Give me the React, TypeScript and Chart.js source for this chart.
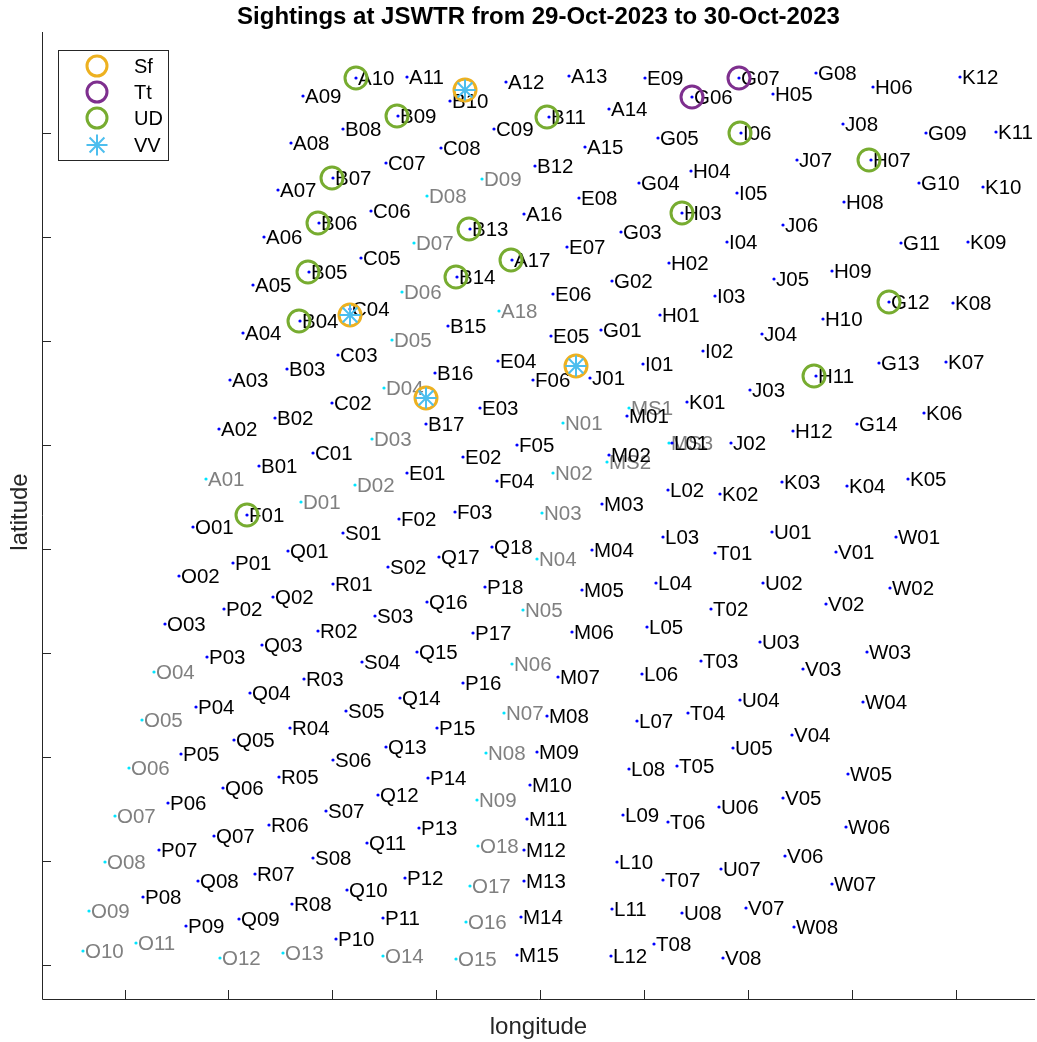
import React, { useEffect, useRef } from "react";
import { Chart, registerables } from "chart.js";

Chart.register(...registerables);

type Station = [string, number, number];
type Spot = [number, number];

const TITLE = "Sightings at JSWTR from 29-Oct-2023 to 30-Oct-2023";
const X_LABEL = "longitude";
const Y_LABEL = "latitude";
const LEGEND_NAMES = ["Sf", "Tt", "UD", "VV"];

// [name, longitude, latitude] in plot units
const activeStations: Station[] = [
  ["A02", 219, 571], ["A03", 230, 620], ["A04", 243, 667], ["A05", 253, 715], ["A06", 264, 763],
  ["A07", 278, 810], ["A08", 291, 857], ["A09", 303, 904], ["A10", 356, 922], ["A11", 407, 923],
  ["A12", 506, 918], ["A13", 569, 924], ["A14", 609, 891], ["A15", 585, 853], ["A16", 524, 786],
  ["A17", 512, 740],
  ["B01", 259, 534], ["B02", 275, 582], ["B03", 287, 631], ["B04", 300, 679], ["B05", 309, 728],
  ["B06", 319, 777], ["B07", 333, 822], ["B08", 343, 871], ["B09", 398, 884], ["B10", 450, 899],
  ["B11", 549, 883], ["B12", 535, 834], ["B13", 470, 771], ["B14", 457, 723], ["B15", 448, 674],
  ["B16", 435, 627], ["B17", 426, 576],
  ["C01", 313, 547], ["C02", 332, 597], ["C03", 338, 645], ["C04", 350, 691], ["C05", 361, 742],
  ["C06", 371, 789], ["C07", 386, 837], ["C08", 441, 852], ["C09", 494, 871],
  ["E01", 407, 527], ["E02", 463, 543], ["E03", 480, 592], ["E04", 498, 639], ["E05", 551, 664],
  ["E06", 553, 706], ["E07", 567, 753], ["E08", 579, 802], ["E09", 645, 922],
  ["F01", 247, 485], ["F02", 399, 481], ["F03", 455, 488], ["F04", 497, 519], ["F05", 517, 555],
  ["F06", 533, 620],
  ["G01", 601, 670], ["G02", 612, 719], ["G03", 621, 768], ["G04", 639, 817], ["G05", 658, 862],
  ["G06", 692, 903], ["G07", 739, 922], ["G08", 816, 927], ["G09", 926, 867], ["G10", 919, 817],
  ["G11", 901, 757], ["G12", 889, 698], ["G13", 879, 637], ["G14", 857, 576],
  ["H01", 660, 685], ["H02", 669, 737], ["H03", 682, 787], ["H04", 691, 829], ["H05", 773, 906],
  ["H06", 873, 913], ["H07", 871, 840], ["H08", 844, 798], ["H09", 832, 729], ["H10", 823, 681],
  ["H11", 816, 624], ["H12", 793, 569],
  ["I01", 643, 636], ["I02", 703, 649], ["I03", 715, 704], ["I04", 727, 758], ["I05", 737, 807],
  ["I06", 741, 867],
  ["J01", 590, 622], ["J02", 731, 557], ["J03", 750, 610], ["J04", 762, 666], ["J05", 774, 721],
  ["J06", 783, 775], ["J07", 797, 840], ["J08", 843, 876],
  ["K01", 687, 598], ["K02", 720, 506], ["K03", 782, 518], ["K04", 847, 514], ["K05", 908, 521],
  ["K06", 924, 587], ["K07", 946, 638], ["K08", 953, 697], ["K09", 968, 758], ["K10", 983, 813],
  ["K11", 996, 868], ["K12", 960, 923],
  ["L01", 672, 557], ["L02", 668, 510], ["L03", 663, 463], ["L04", 656, 417], ["L05", 647, 373],
  ["L06", 642, 326], ["L07", 637, 279], ["L08", 629, 231], ["L09", 623, 185], ["L10", 617, 138],
  ["L11", 612, 91], ["L12", 611, 44],
  ["M01", 627, 584], ["M02", 609, 545], ["M03", 602, 496], ["M04", 592, 450], ["M05", 582, 410],
  ["M06", 572, 368], ["M07", 558, 323], ["M08", 547, 284], ["M09", 537, 248], ["M10", 530, 215],
  ["M11", 527, 181], ["M12", 524, 150], ["M13", 524, 119], ["M14", 521, 83], ["M15", 517, 45],
  ["O01", 193, 473], ["O02", 179, 424], ["O03", 165, 376],
  ["P01", 233, 437], ["P02", 224, 391], ["P03", 207, 343], ["P04", 196, 293], ["P05", 181, 246],
  ["P06", 168, 197], ["P07", 159, 150], ["P08", 143, 103], ["P09", 186, 74], ["P10", 336, 61],
  ["P11", 383, 82], ["P12", 405, 122], ["P13", 419, 172], ["P14", 428, 222], ["P15", 437, 272],
  ["P16", 463, 317], ["P17", 473, 367], ["P18", 485, 413],
  ["Q01", 288, 449], ["Q02", 273, 403], ["Q03", 262, 355], ["Q04", 250, 307], ["Q05", 234, 260],
  ["Q06", 223, 212], ["Q07", 214, 164], ["Q08", 198, 119], ["Q09", 239, 81], ["Q10", 347, 110],
  ["Q11", 367, 157], ["Q12", 378, 205], ["Q13", 386, 253], ["Q14", 400, 302], ["Q15", 417, 348],
  ["Q16", 427, 398], ["Q17", 439, 443], ["Q18", 492, 453],
  ["R01", 333, 416], ["R02", 318, 369], ["R03", 304, 321], ["R04", 290, 272], ["R05", 279, 223],
  ["R06", 269, 175], ["R07", 255, 126], ["R08", 292, 96],
  ["S01", 343, 467], ["S02", 388, 433], ["S03", 375, 384], ["S04", 362, 338], ["S05", 346, 289],
  ["S06", 333, 240], ["S07", 326, 189], ["S08", 313, 142],
  ["T01", 715, 447], ["T02", 711, 391], ["T03", 701, 339], ["T04", 688, 287], ["T05", 677, 234],
  ["T06", 668, 178], ["T07", 663, 120], ["T08", 654, 56],
  ["U01", 772, 468], ["U02", 763, 417], ["U03", 760, 358], ["U04", 740, 300], ["U05", 733, 252],
  ["U06", 719, 193], ["U07", 721, 131], ["U08", 682, 87],
  ["V01", 836, 448], ["V02", 826, 396], ["V03", 803, 331], ["V04", 792, 265], ["V05", 783, 202],
  ["V06", 785, 144], ["V07", 746, 92], ["V08", 723, 42],
  ["W01", 896, 463], ["W02", 890, 412], ["W03", 867, 348], ["W04", 863, 298], ["W05", 848, 226],
  ["W06", 846, 173], ["W07", 832, 116], ["W08", 794, 73],
];

const inactiveStations: Station[] = [
  ["A01", 206, 521], ["A18", 499, 689],
  ["D01", 301, 498], ["D02", 355, 515], ["D03", 372, 561], ["D04", 384, 612], ["D05", 392, 660],
  ["D06", 402, 708], ["D07", 414, 757], ["D08", 427, 804], ["D09", 482, 821],
  ["MS1", 629, 592], ["MS2", 607, 538], ["MS3", 669, 557],
  ["N01", 563, 577], ["N02", 553, 527], ["N03", 542, 487], ["N04", 537, 441], ["N05", 523, 390],
  ["N06", 512, 336], ["N07", 504, 287], ["N08", 486, 247], ["N09", 477, 200],
  ["O04", 154, 328], ["O05", 142, 280], ["O06", 129, 232], ["O07", 115, 184], ["O08", 105, 138],
  ["O09", 89, 89], ["O10", 83, 49], ["O11", 136, 57], ["O12", 220, 42], ["O13", 283, 47],
  ["O14", 383, 44], ["O15", 456, 41], ["O16", 466, 78], ["O17", 470, 114], ["O18", 478, 154],
];

const sfSightings: Spot[] = [[350, 685], [465, 910], [576, 634], [426, 602]];
const ttSightings: Spot[] = [[692, 903], [739, 922]];
const udSightings: Spot[] = [
  [356, 922], [397, 884], [547, 883], [740, 867], [869, 840], [332, 822], [318, 777], [682, 787],
  [469, 771], [308, 728], [511, 740], [456, 723], [889, 698], [299, 679], [814, 624], [247, 485],
];
const vvSightings: Spot[] = [[350, 685], [465, 910], [576, 634], [426, 602]];

const xTicks = [124.5, 228.4, 332.3, 436.2, 540.1, 644, 747.9, 851.8, 955.7];
const yTicks = [35, 139, 243, 347, 451, 555, 659, 763, 867];

const X_MIN = 42, X_MAX = 1035, Y_MIN = 1, Y_MAX = 968;

const FONT = '"Liberation Sans", Arial, Helvetica, sans-serif';
const AXIS_COLOR = "#262626";
const COLORS = { Sf: "#EDB120", Tt: "#7E2F8E", UD: "#77AC30", VV: "#4DBEEE" };

export default function App() {
  const ref = useRef<HTMLCanvasElement>(null);

  useEffect(() => {
    const canvas = ref.current;
    if (!canvas) return;

    const labelPlugin = {
      id: "stationLabels",
      afterDatasetDraw(chart: any, args: any) {
        const ds: any = chart.data.datasets[args.index];
        if (!ds.stationNames) return;
        const c = chart.ctx;
        c.save();
        c.font = `20.5px ${FONT}`;
        c.fillStyle = ds.labelColor;
        c.textBaseline = "middle";
        c.textAlign = "left";
        args.meta.data.forEach((pt: any, i: number) => {
          c.fillText(ds.stationNames[i], pt.x + 2, pt.y + 1);
        });
        c.restore();
      },
    };

    const decorPlugin = {
      id: "decor",
      afterDraw(chart: any) {
        const c = chart.ctx;
        const a = chart.chartArea;
        const xs = chart.scales.x;
        const ys = chart.scales.y;
        c.save();
        // axes
        c.strokeStyle = AXIS_COLOR;
        c.lineWidth = 1;
        c.beginPath();
        c.moveTo(a.left + 0.5, a.top);
        c.lineTo(a.left + 0.5, a.bottom + 0.5);
        c.lineTo(a.right, a.bottom + 0.5);
        c.stroke();
        c.beginPath();
        xTicks.forEach((v) => {
          const px = Math.round(xs.getPixelForValue(v)) + 0.5;
          c.moveTo(px, a.bottom);
          c.lineTo(px, a.bottom - 9);
        });
        yTicks.forEach((v) => {
          const py = Math.round(ys.getPixelForValue(v)) + 0.5;
          c.moveTo(a.left, py);
          c.lineTo(a.left + 9, py);
        });
        c.stroke();

        // title
        c.fillStyle = "#000";
        c.textAlign = "center";
        c.textBaseline = "middle";
        c.font = `bold 24px ${FONT}`;
        c.fillText(TITLE, (a.left + a.right) / 2, 17);

        // axis labels
        c.fillStyle = AXIS_COLOR;
        c.font = `24px ${FONT}`;
        c.fillText(X_LABEL, (a.left + a.right) / 2, 1027);
        c.save();
        c.translate(20, 512);
        c.rotate(-Math.PI / 2);
        c.fillText(Y_LABEL, 0, 0);
        c.restore();

        // legend
        const bx = 58.5, by = 50.5, bw = 110, bh = 110;
        c.fillStyle = "#fff";
        c.fillRect(bx, by, bw, bh);
        c.strokeStyle = AXIS_COLOR;
        c.lineWidth = 1;
        c.strokeRect(bx, by, bw, bh);
        const rowsY = [66, 92, 118, 145];
        const mx = 97;
        LEGEND_NAMES.forEach((name, i) => {
          const y = rowsY[i];
          const col = (COLORS as any)[name];
          c.strokeStyle = col;
          if (name === "VV") {
            c.lineWidth = 2;
            c.beginPath();
            const r = 10.5;
            for (let k = 0; k < 4; k++) {
              const ang = (k * Math.PI) / 4;
              c.moveTo(mx - Math.cos(ang) * r, y - Math.sin(ang) * r);
              c.lineTo(mx + Math.cos(ang) * r, y + Math.sin(ang) * r);
            }
            c.stroke();
          } else {
            c.lineWidth = 3;
            c.beginPath();
            c.arc(mx, y, 10, 0, Math.PI * 2);
            c.stroke();
          }
          c.fillStyle = "#000";
          c.textAlign = "left";
          c.font = `20px ${FONT}`;
          c.fillText(name, 134, y + 1);
        });
        c.restore();
      },
    };

    const toPts = (arr: Spot[]) => arr.map(([x, y]) => ({ x, y }));
    const stPts = (arr: Station[]) => arr.map(([, x, y]) => ({ x, y }));

    const chart = new Chart(canvas, {
      type: "scatter",
      data: {
        datasets: [
          {
            label: "inactive",
            data: stPts(inactiveStations),
            stationNames: inactiveStations.map((s) => s[0]),
            labelColor: "#808080",
            pointStyle: "circle",
            pointRadius: 1.6,
            pointBorderWidth: 0,
            backgroundColor: "#00E5FF",
            borderColor: "#00E5FF",
            order: 6,
          } as any,
          {
            label: "active",
            data: stPts(activeStations),
            stationNames: activeStations.map((s) => s[0]),
            labelColor: "#000000",
            pointStyle: "circle",
            pointRadius: 1.6,
            pointBorderWidth: 0,
            backgroundColor: "#0000FF",
            borderColor: "#0000FF",
            order: 5,
          } as any,
          {
            label: "UD",
            data: toPts(udSightings),
            pointStyle: "circle",
            pointRadius: 11,
            pointBorderWidth: 3,
            borderColor: COLORS.UD,
            backgroundColor: "rgba(0,0,0,0)",
            order: 4,
          },
          {
            label: "Tt",
            data: toPts(ttSightings),
            pointStyle: "circle",
            pointRadius: 11,
            pointBorderWidth: 3,
            borderColor: COLORS.Tt,
            backgroundColor: "rgba(0,0,0,0)",
            order: 3,
          },
          {
            label: "Sf",
            data: toPts(sfSightings),
            pointStyle: "circle",
            pointRadius: 11,
            pointBorderWidth: 3,
            borderColor: COLORS.Sf,
            backgroundColor: "rgba(0,0,0,0)",
            order: 2,
          },
          {
            label: "VV",
            data: toPts(vvSightings),
            pointStyle: "star",
            pointRadius: 10.5,
            pointBorderWidth: 2,
            borderColor: COLORS.VV,
            backgroundColor: COLORS.VV,
            order: 1,
          },
        ],
      },
      options: {
        animation: false,
        responsive: false,
        devicePixelRatio: 1,
        events: [],
        layout: { autoPadding: false, padding: { left: 42, top: 32, right: 2, bottom: 43 } },
        scales: {
          x: { type: "linear", display: false, min: X_MIN, max: X_MAX },
          y: { type: "linear", display: false, min: Y_MIN, max: Y_MAX },
        },
        plugins: {
          legend: { display: false },
          tooltip: { enabled: false },
          title: { display: false },
        },
      },
      plugins: [labelPlugin, decorPlugin],
    });

    return () => chart.destroy();
  }, []);

  return (
    <div style={{ position: "fixed", left: 0, top: 0, width: 1037, height: 1042, background: "#fff" }}>
      <canvas ref={ref} width={1037} height={1042} style={{ display: "block", width: 1037, height: 1042 }} />
    </div>
  );
}
